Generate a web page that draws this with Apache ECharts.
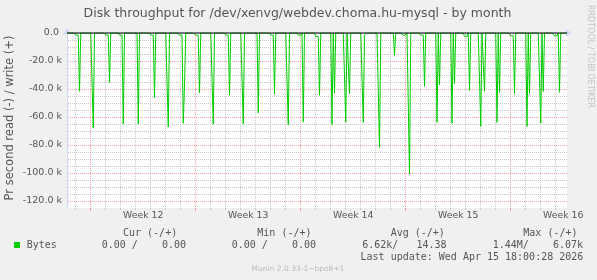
<!DOCTYPE html>
<html><head><meta charset="utf-8">
<script src="https://cdn.jsdelivr.net/npm/echarts@6/dist/echarts.min.js"></script>
<style>html,body{margin:0;padding:0;background:#f0f0f0}#c{width:597px;height:280px}</style>
</head><body><div id="c"></div>
<script>
// ---- data (hours since graph start, bytes per second; read is drawn negative) ----
const chartTitle = 'Disk throughput for /dev/xenvg/webdev.choma.hu-mysql - by month';
const yAxisTitle = 'Pr second read (-) / write (+)';
const spanHours = 800;
const stepHours = 2;
const spikeHours = [19.2, 42.1, 67.2, 89.6, 114.1, 140.0, 162.1, 185.6, 188.8, 211.7, 234.4, 259.7, 282.1, 305.6, 331.2, 354.1, 377.6, 403.7, 423.5, 427.7, 446.9, 451.7, 473.1, 499.2, 524.0, 547.2, 571.5, 591.5, 595.7, 615.2, 620.0, 643.5, 662.9, 667.7, 687.2, 691.5, 715.5, 735.2, 740.0, 758.9, 761.6, 787.7];
const spikeValues = [-41700, -67900, -35300, -65000, -65000, -46400, -67100, -64500, -38000, -42900, -65000, -44500, -65000, -57100, -43600, -65700, -63600, -44500, -65500, -42900, -63800, -43600, -63800, -81700, -16000, -100700, -38100, -63800, -37000, -64500, -36200, -41000, -66700, -41700, -63800, -42400, -43100, -66700, -43100, -64500, -41700, -42400];
const shelfHours = [16.8, 64.8, 86.1, 137.6, 182.4, 208.8, 257.1, 329.1, 373.9, 400.0, 476.8, 541.1, 569.1, 638.9, 712.0, 782.9];
const shelfValues = [-1500, -1500, -1500, -1500, -1500, -1500, -1500, -1500, -1500, -2400, -1500, -1500, -1500, -2400, -2000, -2000];
const dayLineHours = [13.9, 61.9, 85.9, 109.9, 133.9, 157.9, 181.9, 229.9, 253.9, 277.9, 301.9, 325.9, 349.9, 397.9, 421.9, 445.9, 469.9, 493.9, 517.9, 565.9, 589.9, 613.9, 637.9, 661.9, 685.9, 733.9, 757.9, 781.9];
const weekLineHours = [37.9, 205.9, 373.9, 541.9, 709.9];
const weekLabelHours = [121.9, 289.9, 457.9, 625.9, 793.9];
const weekLabels = ['Week 12', 'Week 13', 'Week 14', 'Week 15', 'Week 16'];
const yMinorValues = [-115000, -110000, -105000, -95000, -90000, -85000, -75000, -70000, -65000, -55000, -50000, -45000, -35000, -30000, -25000, -15000, -10000, -5000];
const yMajorValues = [-120000, -100000, -80000, -60000, -40000, -20000];
const yMin = -125000, yMax = 0, yStep = 5000, yLabelStep = 20000;
const legendHeaders = ['Cur (-/+)', 'Min (-/+)', 'Avg (-/+)', 'Max (-/+)'];
const legendValues = ['0.00 /    0.00', '0.00 /    0.00', '6.62k/   14.38', '1.44M/    6.07k'];
const seriesName = 'Bytes';
const lastUpdate = 'Last update: Wed Apr 15 18:00:28 2026';
const footer = 'Munin 2.0.33-1~bpo8+1';
const watermark = 'RRDTOOL / TOBI OETIKER';

// ---- build series from the arrays ----
const nPts = spanHours / stepHours + 1;
const vals = new Array(nPts).fill(0);
shelfHours.forEach((h, i) => {
  const a = Math.round((h - 3) / stepHours), b = Math.round((h + 1) / stepHours);
  for (let k = a; k <= b; k++) vals[k] = shelfValues[i];
});
spikeHours.forEach((h, i) => { vals[Math.round(h / stepHours)] = spikeValues[i]; });
const readData = vals.map((v, k) => [k * stepHours, v]);

const GRAY = '#c8c8c8';
const RED = '#f0a0a0';
const AXIS = '#CFD6F8';
const FONT = '#555';
const SANS = 'DejaVu Sans';
const MONO = 'DejaVu Sans Mono';

// all grid lines in one custom series: each item = [kind, value]
// kind 0: minor vertical (x = hours), 1: major vertical, 2: minor horizontal (y = value), 3: major horizontal
const gridItems = []
  .concat(yMinorValues.map(v => [2, v]))
  .concat(dayLineHours.map(v => [0, v]))
  .concat(yMajorValues.map(v => [3, v]))
  .concat(weekLineHours.map(v => [1, v]));

function gridRender(params, api) {
  const kind = api.value(0), val = api.value(1);
  const tl = api.coord([0, yMax]);
  const br = api.coord([spanHours, yMin]);
  const left = Math.round(tl[0]), right = Math.round(br[0]);
  const top = Math.round(tl[1]), bot = Math.round(br[1]);
  const color = (kind === 1 || kind === 3) ? RED : GRAY;
  const pts = [];
  if (kind <= 1) {
    const x = Math.round(api.coord([val, yMin])[0] - 0.5);
    for (let y = top + 1; y < bot; y += 2) pts.push([x, y, 1, 1]);
    pts.push([x, bot, 1, kind === 1 ? 3 : 2]);
  } else {
    const y = Math.round(api.coord([0, val])[1] - 0.5);
    for (let x = left + 1; x < right; x += 2) pts.push([x, y, 1, 1]);
  }
  return {
    type: 'group',
    children: pts.map(p => ({ type: 'rect', shape: { x: p[0], y: p[1], width: p[2], height: p[3] }, style: { fill: color, stroke: null } }))
  };
}

const chart = echarts.init(document.getElementById('c'), null, { renderer: 'canvas' });
const legendX = [123, 257.3, 390.7, 523.3];
const valueRight = [186, 316, 446.5, 583];
const graphics = [
  { type: 'text', x: 297.5, y: 14, style: { text: chartTitle, font: '12.5px "' + SANS + '"', fill: FONT, align: 'center', verticalAlign: 'middle' } },
  { type: 'text', x: 10, y: 118, rotation: Math.PI / 2, style: { text: yAxisTitle, font: '11.5px "' + SANS + '"', fill: FONT, align: 'center', verticalAlign: 'middle' } },
  { type: 'text', x: 590, y: 56.5, rotation: -Math.PI / 2, style: { text: watermark, font: '8px "' + SANS + '"', fill: '#c4c4c4', align: 'center', verticalAlign: 'middle' } },
  { type: 'rect', shape: { x: 14, y: 242, width: 6, height: 6 }, style: { fill: '#00cc00' } },
  { type: 'text', x: 26.7, y: 245.7, style: { text: seriesName, font: '10px "' + MONO + '"', fill: FONT, align: 'left', verticalAlign: 'middle' } },
  { type: 'text', x: 583.3, y: 257.3, style: { text: lastUpdate, font: '10px "' + MONO + '"', fill: FONT, align: 'right', verticalAlign: 'middle' } },
  { type: 'text', x: 298, y: 269.3, style: { text: footer, font: '7.5px "' + SANS + '"', fill: '#bbbbbb', align: 'center', verticalAlign: 'middle' } }
];
legendHeaders.forEach((t, i) => graphics.push({ type: 'text', x: legendX[i], y: 233.3, style: { text: t, font: '10px "' + MONO + '"', fill: FONT, align: 'left', verticalAlign: 'middle' } }));
legendValues.forEach((t, i) => graphics.push({ type: 'text', x: valueRight[i], y: 245.7, style: { text: t, font: '10px "' + MONO + '"', fill: FONT, align: 'right', verticalAlign: 'middle' } }));

chart.setOption({
  animation: false,
  backgroundColor: '#f0f0f0',
  grid: { left: 67, right: 30, top: 33, bottom: 72, show: false },
  xAxis: [
    {
      type: 'value', min: 0, max: spanHours, position: 'bottom', z: 3,
      axisLine: { show: true, lineStyle: { color: AXIS, width: 1 }, symbol: ['none', 'arrow'], symbolSize: [6, 7], symbolOffset: [0, 5] },
      axisTick: { show: false },
      splitLine: { show: false },
      axisLabel: {
        show: true, customValues: weekLabelHours, margin: 3, color: FONT, fontFamily: SANS, fontSize: 9.3,
        formatter: (v) => { let best = 0; weekLabelHours.forEach((h, i) => { if (Math.abs(h - v) < Math.abs(weekLabelHours[best] - v)) best = i; }); return weekLabels[best]; }
      }
    }
  ],
  yAxis: [{
    type: 'value', min: yMin, max: yMax, interval: yStep, z: 3,
    axisLine: { show: true, lineStyle: { color: AXIS, width: 1 }, symbol: ['none', 'arrow'], symbolSize: [6, 7], symbolOffset: [0, 5] },
    axisTick: { show: false },
    axisLabel: {
      show: true, margin: 5, color: FONT, fontFamily: SANS, fontSize: 9.5,
      formatter: (v) => (v % yLabelStep === 0 ? (v === 0 ? '0.0 ' : (v / 1000).toFixed(1) + ' k') : '')
    },
    splitLine: { show: false }
  }],
  graphic: graphics,
  series: [
    {
      type: 'custom', xAxisIndex: 0, yAxisIndex: 0, z: 0, silent: true, clip: false,
      data: [[0]],
      renderItem: (params, api) => {
        const tl = api.coord([0, yMax]), br = api.coord([spanHours, yMin]);
        return { type: 'rect', shape: { x: tl[0], y: tl[1], width: br[0] - tl[0], height: br[1] - tl[1] }, style: { fill: '#ffffff' } };
      }
    },
    {
      type: 'custom', xAxisIndex: 0, yAxisIndex: 0, z: 4, silent: true, clip: false,
      data: gridItems,
      dimensions: ['kind', 'val'],
      encode: { itemName: 0 },
      renderItem: gridRender
    },
    {
      name: seriesName, type: 'line', data: readData, xAxisIndex: 0, yAxisIndex: 0,
      symbol: 'none', showSymbol: false, sampling: null, z: 5,
      lineStyle: { color: '#00cc00', width: 1 }
    },
    {
      type: 'line', data: [[0, 0], [spanHours, 0]], xAxisIndex: 0, yAxisIndex: 0, z: 6, clip: false,
      symbol: 'none', showSymbol: false, silent: true,
      lineStyle: { color: '#000000', width: 1 }
    }
  ]
});
</script></body></html>
